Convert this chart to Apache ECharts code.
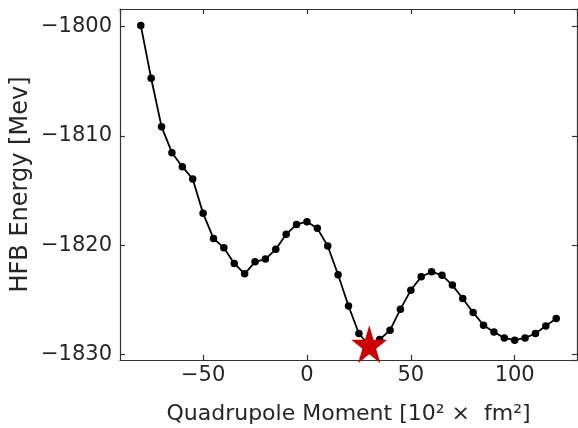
<!DOCTYPE html>
<html>
<head>
<meta charset="utf-8">
<script src="https://cdn.jsdelivr.net/npm/echarts@6/dist/echarts.min.js"></script>
<style>
html,body{margin:0;padding:0;background:#fff;}
#chart{width:578px;height:428px;}
</style>
</head>
<body>
<div id="chart"></div>
<script>
// Data
const quadMoments = [-80,-75,-70,-65,-60,-55,-50,-45,-40,-35,-30,-25,-20,-15,-10,-5,0,5,10,15,20,25,30,35,40,45,50,55,60,65,70,75,80,85,90,95,100,105,110,115,120];
const hfbEnergy = [-1799.9,-1804.73,-1809.16,-1811.54,-1812.82,-1813.95,-1817.09,-1819.38,-1820.24,-1821.67,-1822.62,-1821.52,-1821.27,-1820.38,-1819.01,-1818.10,-1817.85,-1818.46,-1820.07,-1822.7,-1825.56,-1828.08,-1829.2,-1828.63,-1827.77,-1825.85,-1824.11,-1822.89,-1822.44,-1822.74,-1823.65,-1824.87,-1826.15,-1827.32,-1827.93,-1828.48,-1828.69,-1828.48,-1828.08,-1827.38,-1826.70];
const minimumX = [30];
const minimumY = [-1829.2];
const xTitle = 'Quadrupole Moment [10\u00B2 \u00D7  fm\u00B2]';
const yTitle = 'HFB Energy [Mev]';

const FONT = 'DejaVu Sans';
const TXT = '#262626';
const AX = '#333333';
const minus = v => String(v).replace('-', '\u2212');

const starPath = 'path://M0,-1 L0.2245,-0.309 L0.951,-0.309 L0.363,0.118 L0.588,0.809 L0,0.382 L-0.588,0.809 L-0.363,0.118 L-0.951,-0.309 L-0.2245,-0.309 Z';

const axisLineStyle = {show: true, onZero: false, lineStyle: {color: AX, width: 1.2}};
const tickStyle = {show: true, inside: true, length: 5, lineStyle: {color: AX, width: 1.2}};

const chart = echarts.init(document.getElementById('chart'), null, {renderer: 'canvas'});
chart.setOption({
  animation: false,
  backgroundColor: '#fff',
  grid: {left: 120, right: 1, top: 9, bottom: 68, containLabel: false, outerBoundsMode: 'none'},
  xAxis: [{
    type: 'value', min: -90, max: 130, splitNumber: 4, position: 'bottom',
    axisLine: axisLineStyle, axisTick: tickStyle, splitLine: {show: false},
    axisLabel: {show: true, margin: 5, color: TXT, fontFamily: FONT, fontSize: 21, formatter: minus, showMinLabel: false, showMaxLabel: false},
    name: xTitle, nameLocation: 'middle', nameGap: 43, nameMoveOverlap: false,
    nameTextStyle: {color: TXT, fontFamily: FONT, fontSize: 22}
  }, {
    type: 'value', min: -90, max: 130, splitNumber: 4, position: 'top',
    axisLine: axisLineStyle, axisTick: tickStyle, splitLine: {show: false},
    axisLabel: {show: false}
  }],
  yAxis: [{
    type: 'value', min: -1830.5, max: -1798.4, splitNumber: 3, position: 'left',
    axisLine: axisLineStyle, axisTick: tickStyle, splitLine: {show: false},
    axisLabel: {show: true, margin: 8, color: TXT, fontFamily: FONT, fontSize: 21, formatter: minus, showMinLabel: false, showMaxLabel: false},
    name: yTitle, nameLocation: 'middle', nameGap: 87, nameRotate: 90, nameMoveOverlap: false,
    nameTextStyle: {color: TXT, fontFamily: FONT, fontSize: 24}
  }, {
    type: 'value', min: -1830.5, max: -1798.4, splitNumber: 3, position: 'right',
    axisLine: axisLineStyle, axisTick: tickStyle, splitLine: {show: false},
    axisLabel: {show: false}
  }],
  series: [{
    type: 'line',
    xAxisIndex: 0, yAxisIndex: 0,
    data: quadMoments.map((x, i) => [x, hfbEnergy[i]]),
    symbol: 'circle', symbolSize: 7.5,
    itemStyle: {color: '#000', opacity: 1},
    lineStyle: {color: '#000', width: 1.8},
    z: 2
  }, {
    type: 'scatter',
    xAxisIndex: 0, yAxisIndex: 0,
    data: minimumX.map((x, i) => [x, minimumY[i]]),
    symbol: starPath, symbolSize: [36, 38], symbolOffset: [0, -1.5],
    itemStyle: {color: '#cc0000', opacity: 1},
    clip: false,
    z: 5
  }]
});
</script>
</body>
</html>
